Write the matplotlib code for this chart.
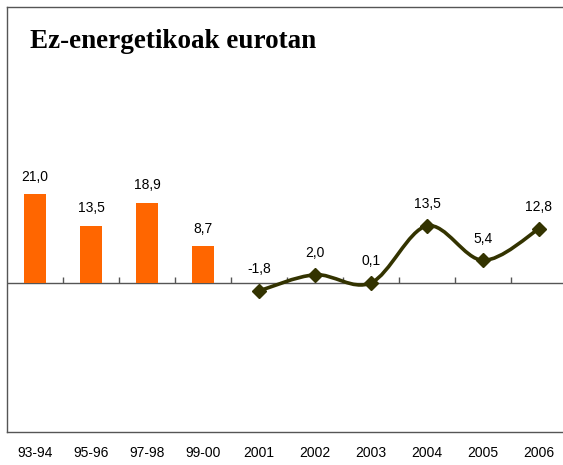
import numpy as np
import matplotlib.pyplot as plt
from matplotlib.path import Path
from matplotlib.patches import PathPatch

# datos
cats = ['93-94', '95-96', '97-98', '99-00', '2001', '2002', '2003', '2004', '2005', '2006']
bar_vals = [21.0, 13.5, 18.9, 8.7]
line_vals = [-1.8, 2.0, 0.1, 13.5, 5.4, 12.8]
title = 'Ez-energetikoak eurotan'

orange = '#FF6600'
olive = '#333300'
frame = '#555555'

plt.rcParams['font.family'] = ['Liberation Sans', 'DejaVu Sans']

fig = plt.figure(figsize=(5.63, 4.65), dpi=100)
# plot area slightly wider than the picture (right edge cut off, as in the original)
ax = fig.add_axes([7/563, 1-432/465, 560/563, 425/465])

xb = np.arange(len(bar_vals))
ax.bar(xb, bar_vals, width=0.41, color=orange, zorder=3)
for x, v in zip(xb, bar_vals):
    ax.annotate(f'{v:.1f}'.replace('.', ','), (x, v), xytext=(0, 12.6),
                textcoords='offset points', ha='center', va='center', fontsize=10)

# smoothed line (Excel-like Catmull-Rom bezier)
xl = np.arange(len(bar_vals), len(cats))
yl = np.array(line_vals)
pts = np.column_stack([xl, yl]).astype(float)
verts = [pts[0]]
codes = [Path.MOVETO]
n = len(pts)
for i in range(n - 1):
    p0 = pts[max(i - 1, 0)]
    p1 = pts[i]
    p2 = pts[i + 1]
    p3 = pts[min(i + 2, n - 1)]
    c1 = p1 + (p2 - p0) / 6
    c2 = p2 - (p3 - p1) / 6
    verts += [c1, c2, p2]
    codes += [Path.CURVE4] * 3
ax.add_patch(PathPatch(Path(verts, codes), facecolor='none', edgecolor=olive, lw=2.6, zorder=4))
ax.plot(xl, yl, ls='none', marker='D', ms=7, color=olive, zorder=5)
for x, v in zip(xl, line_vals):
    ax.annotate(f'{v:.1f}'.replace('.', ','), (x, v), xytext=(0, 15.5),
                textcoords='offset points', ha='center', va='center', fontsize=10)

# zero line with small ticks at category boundaries
ax.axhline(0, color=frame, lw=1, zorder=2)
bounds = np.arange(0.5, len(cats) - 0.5, 1)
ax.vlines(bounds, 0, 1.45, color=frame, lw=1, zorder=2)

ax.set_xlim(-0.5, len(cats) - 0.5)
ax.set_ylim(-35, 65)
ax.set_xticks(np.arange(len(cats)))
ax.set_xticklabels(cats, fontsize=10)
ax.tick_params(axis='x', length=0, pad=10)
ax.set_yticks([])
for s in ['left', 'top', 'bottom']:
    ax.spines[s].set_color(frame)
    ax.spines[s].set_linewidth(1)
ax.spines['right'].set_visible(False)

fig.text(30/563, 1-41/465, title, family='Liberation Serif', fontweight='bold',
         fontsize=19.5, va='center', ha='left')

fig.savefig('out.png', dpi=100)
